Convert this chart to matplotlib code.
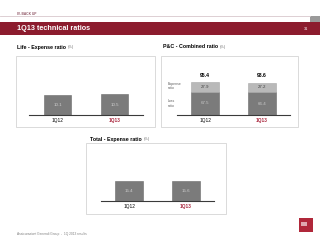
import matplotlib.pyplot as plt
from matplotlib.patches import Rectangle

plt.rcParams['font.family'] = ['Liberation Sans', 'DejaVu Sans']

quarters = ['1Q12', '1Q13']
life_expense = [10.1, 10.5]
pc_loss = [67.5, 66.4]
pc_expense = [27.9, 27.2]
pc_combined = [95.4, 93.6]
total_expense = [15.4, 15.6]

RED = '#8c1c2e'
DARK = '#7b7b7b'
LIGHT = '#b9b9b9'
W, H = 320, 240


def fx(x):
    return x / W


def fy(y):
    return 1 - y / H


fig = plt.figure(figsize=(3.2, 2.4), dpi=100)

# header
fig.add_artist(Rectangle((0, fy(35)), 1, 13 / H, transform=fig.transFigure,
                         facecolor=RED, edgecolor='none'))
fig.add_artist(plt.Line2D([0, fx(310)], [fy(16), fy(16)], transform=fig.transFigure,
                          color='#d8c8cc', lw=0.6))
fig.add_artist(Rectangle((fx(310), fy(22)), 10 / W, 6 / H, transform=fig.transFigure,
                         facecolor='#9a9a9a', edgecolor='none'))
fig.text(fx(17), fy(14), 'IV. BACK UP', fontsize=2.3, color='#8c5060', weight='bold', va='center')
fig.text(fx(17), fy(28.5), '1Q13 technical ratios', fontsize=5.2, color='white',
         weight='bold', va='center')
fig.text(fx(306), fy(28.5), '31', fontsize=2.8, color='white', va='center', ha='center')

# footer
fig.text(fx(17), fy(234), 'Assicurazioni Generali Group  -  1Q 2013 results', fontsize=2.3,
         color='#808080', va='center')
fig.add_artist(Rectangle((fx(299), fy(232)), 14 / W, 14 / H, transform=fig.transFigure,
                         facecolor='#b0283a', edgecolor='none'))
fig.add_artist(Rectangle((fx(301), fy(226)), 6 / W, 4 / H, transform=fig.transFigure,
                         facecolor='white', edgecolor='none', alpha=0.6))


def panel_box(x0, y0, x1, y1, title, tx, ty):
    fig.add_artist(Rectangle((fx(x0), fy(y1)), (x1 - x0) / W, (y1 - y0) / H,
                             transform=fig.transFigure, facecolor='none',
                             edgecolor='#d4d4d4', lw=0.6))
    t = fig.text(fx(tx), fy(ty), title, fontsize=3.8, weight='bold', va='center')
    fig.canvas.draw()
    bb = t.get_window_extent()
    fig.text(bb.x1 / W + 1.5 / W, fy(ty), '(%)', fontsize=2.8, color='#707070', va='center')


def bar_axes(x0, x1, ybase, height, ymax):
    ax = fig.add_axes([fx(x0), fy(ybase), (x1 - x0) / W, height / H])
    ax.set_xlim(-0.5, 1.5)
    ax.set_ylim(0, ymax)
    for s in ['top', 'left', 'right']:
        ax.spines[s].set_visible(False)
    ax.spines['bottom'].set_color('#3a3a3a')
    ax.spines['bottom'].set_linewidth(0.8)
    ax.set_yticks([])
    ax.set_xticks([0, 1])
    ax.set_xticklabels(quarters, fontsize=3.4)
    ax.tick_params(axis='x', length=0, pad=2.2)
    ax.get_xticklabels()[1].set_color('#a8233a')
    ax.get_xticklabels()[1].set_fontweight('bold')
    ax.patch.set_visible(False)
    return ax


# Life
panel_box(16, 56, 155, 127, 'Life - Expense ratio', 17, 47)
ax = bar_axes(29, 143, 115, 40, 20.2)
b = ax.bar([0, 1], life_expense, width=0.49, color=DARK, edgecolor='#6a6a6a', lw=0.4)
ax.bar_label(b, label_type='center', fontsize=3.2, color='#d0d0d0')

# P&C
panel_box(161, 56, 298, 127, 'P&C - Combined ratio', 163, 47)
ax = bar_axes(177, 290, 115, 45, 130)
b1 = ax.bar([0, 1], pc_loss, width=0.49, color=DARK, edgecolor='#6a6a6a', lw=0.4)
b2 = ax.bar([0, 1], pc_expense, bottom=pc_loss, width=0.49, color=LIGHT,
            edgecolor='#a8a8a8', lw=0.4)
ax.bar_label(b1, label_type='center', fontsize=3.2, color='#c8c8c8')
ax.bar_label(b2, label_type='center', fontsize=3.2, color='#404040')
for i, v in enumerate(pc_combined):
    ax.annotate(f'{v}', (i, v), xytext=(0, 3), textcoords='offset points',
                ha='center', va='bottom', fontsize=3.7, weight='bold')
fig.text(fx(168), fy(86), 'Expense\nratio', fontsize=2.5, color='#606060', va='center',
         linespacing=1.1)
fig.text(fx(168), fy(103.5), 'Loss\nratio', fontsize=2.5, color='#606060', va='center',
         linespacing=1.1)

# Total
panel_box(86, 143, 226, 214, 'Total - Expense ratio', 90, 139)
ax = bar_axes(101, 214, 201, 40, 30.8)
b = ax.bar([0, 1], total_expense, width=0.49, color=DARK, edgecolor='#6a6a6a', lw=0.4)
ax.bar_label(b, label_type='center', fontsize=3.2, color='#d0d0d0')

fig.savefig('out.png', dpi=100)
